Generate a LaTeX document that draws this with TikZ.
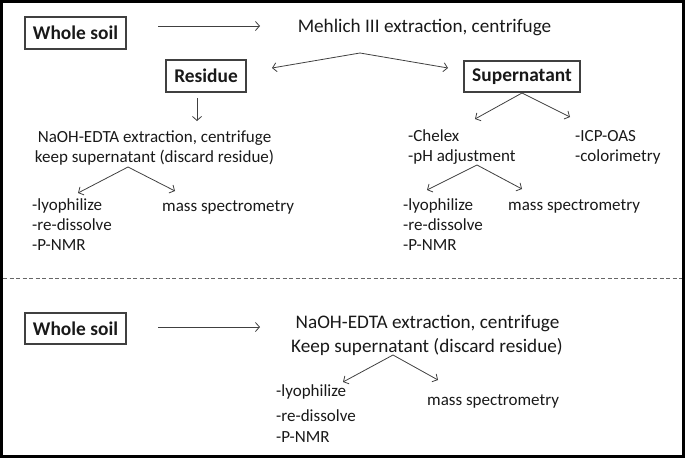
\documentclass[tikz,border=0pt]{standalone}
\usepackage{fontspec}
\setmainfont{Carlito}
\usetikzlibrary{arrows.meta}
\begin{document}
\begin{tikzpicture}[x=1pt,y=-1pt,
  txt/.style={inner sep=0pt, text=black!90, font=\fontsize{17}{20}\selectfont},
  txtc/.style={txt, anchor=base},
  txtl/.style={txt, anchor=base west},
  big/.style={font=\fontsize{19.2}{23}\selectfont},
  boxn/.style={draw=black!75, line width=1.1pt, inner sep=0pt, text=black!90, font=\fontsize{19.4}{23}\selectfont\bfseries},
  arr/.style={draw=black!75, line width=0.8pt, -{Straight Barb[length=4pt,width=9pt]}},
]
\useasboundingbox (0,0) rectangle (685,458);
\draw[line width=3pt] (1.5,1.5) rectangle (683.5,456.5);
\draw[black!60, line width=1pt, dash pattern=on 4pt off 2.5pt] (3,278) -- (682,278);

% top section
\node[boxn, minimum width=101pt, minimum height=32pt] (ws1) at (75.5,33) {Whole soil};
\node[txtc, big] (mehlich) at (424.5,32) {Mehlich III extraction, centrifuge};
\node[boxn, minimum width=80pt, minimum height=32pt] (res) at (206,76) {Residue};
\node[boxn, minimum width=116pt, minimum height=31pt] (sup) at (522,76.5) {Supernatant};

\node[txtc] (naoh1a) at (154.5,142) {NaOH-EDTA extraction, centrifuge};
\node[txtc] (naoh1b) at (154.5,162) {keep supernatant (discard residue)};
\node[txtl] (lyo1a) at (32,210) {-lyophilize};
\node[txtl] (lyo1b) at (32,230) {-re-dissolve};
\node[txtl] (lyo1c) at (32,250) {-P-NMR};
\node[txtl] (ms1) at (162,211) {mass spectrometry};

\node[txtl] (chela) at (408,141) {-Chelex};
\node[txtl] (chelb) at (408,161) {-pH adjustment};
\node[txtl] (icpa) at (575,141) {-ICP-OAS};
\node[txtl] (icpb) at (575,161) {-colorimetry};
\node[txtl] (lyo2a) at (403,210) {-lyophilize};
\node[txtl] (lyo2b) at (403,230) {-re-dissolve};
\node[txtl] (lyo2c) at (403,250) {-P-NMR};
\node[txtl] (ms2) at (508,210) {mass spectrometry};

% bottom section
\node[boxn, minimum width=101pt, minimum height=31pt] (ws2) at (75.5,328.5) {Whole soil};
\node[txtc, big] (naoh2a) at (427.5,328) {NaOH-EDTA extraction, centrifuge};
\node[txtc, big] (naoh2b) at (427,352) {Keep supernatant (discard residue)};
\node[txtl] (lyo3a) at (276,396.5) {-lyophilize};
\node[txtl] (lyo3b) at (276,421) {-re-dissolve};
\node[txtl] (lyo3c) at (276,442.5) {-P-NMR};
\node[txtl] (ms3) at (427,405) {mass spectrometry};

% connector coordinates
\coordinate (a1s) at (158,26);  \coordinate (a1e) at (260,26);
\coordinate (m1) at (360,53);
\coordinate (m1l) at (272,68);  \coordinate (m1r) at (448,68);
\coordinate (r1s) at (197,98);  \coordinate (r1e) at (197,121);
\coordinate (n1) at (128,167);
\coordinate (n1l) at (78,193);  \coordinate (n1r) at (175,191);
\coordinate (s1) at (522,93);
\coordinate (s1l) at (475,119); \coordinate (s1r) at (570,117);
\coordinate (c1) at (477,165);
\coordinate (c1l) at (427,190); \coordinate (c1r) at (522,189);
\coordinate (a2s) at (158,327); \coordinate (a2e) at (260,327);
\coordinate (n2) at (393,355);
\coordinate (n2l) at (343,382); \coordinate (n2r) at (438,380);

\draw[arr] (a1s) -- (a1e);
\draw[arr] (m1) -- (m1l);
\draw[arr] (m1) -- (m1r);
\draw[arr] (r1s) -- (r1e);
\draw[arr] (n1) -- (n1l);
\draw[arr] (n1) -- (n1r);
\draw[arr] (s1) -- (s1l);
\draw[arr] (s1) -- (s1r);
\draw[arr] (c1) -- (c1l);
\draw[arr] (c1) -- (c1r);
\draw[arr] (a2s) -- (a2e);
\draw[arr] (n2) -- (n2l);
\draw[arr] (n2) -- (n2r);
\end{tikzpicture}
\end{document}
